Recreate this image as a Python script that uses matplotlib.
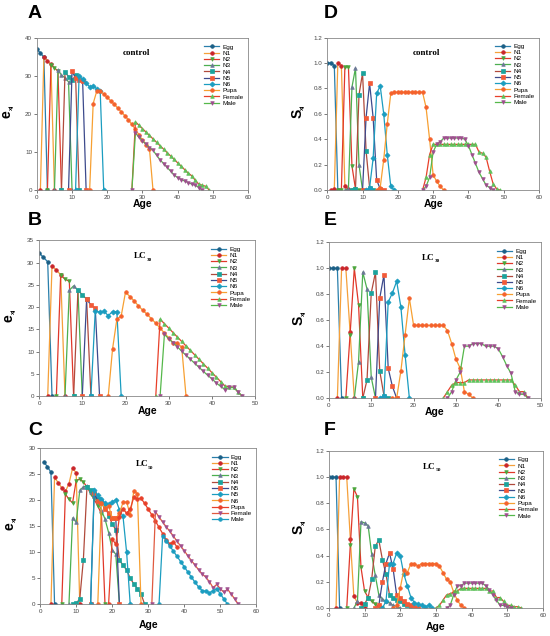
import matplotlib.pyplot as plt

plt.rcParams['font.family'] = ['Liberation Sans', 'DejaVu Sans']

# stage names per panel (panel C has an extra stage in the source figure)
stages = ["Egg", "N1", "N2", "N3", "N4", "N5", "N6", "Pupa", "Female", "Male"]
stages_c = ["Egg", "N1", "N2", "N3", "N4", "N5", "N5", "N6", "Pupa", "Female", "Male"]

# first age of each series (ages run on by one day)
ex_control_start = [0, 1, 3, 5, 7, 9, 11, 15, 27, 27]
ex_control = [
    [37.1, 36.1, 35.0, 0],
    [0, 35.0, 34.1, 33.1, 0],
    [0, 33.0, 32.2, 31.3, 0],
    [0, 31.5, 30.3, 29.6, 28.5, 0],
    [0, 31.0, 29.9, 28.9, 30.2, 0],
    [0, 31.3, 29.5, 29.0, 28.8, 0],
    [0, 30.1, 29.2, 28.2, 27.2, 27.4, 26.7, 26.0, 0],
    [0, 22.8, 26.0, 26.1, 25.3, 24.4, 23.5, 22.6, 21.6, 20.6, 19.6, 18.5, 17.3, 16.0,
     14.6, 13.2, 12.0, 10.8, 0],
    [0, 18.0, 17.1, 16.2, 15.3, 14.4, 13.5, 12.6, 11.7, 10.8, 9.9, 9.0, 8.1, 7.2, 6.3,
     5.4, 4.5, 3.8, 2.6, 1.6, 1.3, 1.0, 0],
    [0, 15.0, 14.0, 13.0, 12.1, 11.2, 10.5, 9.2, 8.0, 7.0, 6.0, 5.0, 4.0, 3.3, 2.8,
     2.4, 2.0, 1.6, 1.3, 0.7, 0],
]

ex_lc30_start = [0, 2, 4, 6, 8, 10, 12, 16, 27, 28]
ex_lc30 = [
    [32.2, 31.2, 30.2, 0],
    [0, 29.3, 28.3, 27.3, 0],
    [0, 27.2, 26.3, 25.8, 0],
    [0, 23.8, 24.8, 23.8, 0],
    [0, 23.8, 22.8, 21.8, 0],
    [0, 21.8, 20.5, 19.8, 0],
    [0, 19.2, 18.9, 19.1, 18.1, 19.0, 19.0, 0],
    [0, 10.6, 17.3, 18.0, 23.4, 22.4, 21.4, 20.3, 19.3, 18.4, 17.4, 16.4, 15.3, 14.2,
     13.1, 12.0, 12.0, 11.0, 0],
    [0, 17.3, 16.3, 15.3, 14.3, 13.3, 12.3, 11.3, 10.3, 9.3, 8.3, 7.3, 6.3, 5.3, 4.3,
     3.3, 2.3, 2.1, 2.0, 1.0, 0],
    [0, 13.9, 12.9, 12.0, 11.1, 10.1, 9.2, 8.3, 7.4, 6.5, 5.6, 4.7, 3.9, 3.0, 2.2,
     1.5, 2.0, 2.0, 1.0, 0],
]

ex_lc50_start = [1, 3, 6, 8, 9, 14, 14, 16, 19, 31, 33]
ex_lc50 = [
    [27.4, 26.5, 25.4, 0],
    [0, 24.4, 23.4, 22.4, 21.7, 23.2, 26.2, 25.3, 0],
    [0, 21.2, 20.2, 19.5, 23.8, 24.1, 23.5, 22.6, 21.3, 20.2, 18.9, 17.4, 0],
    [0, 16.6, 15.8, 21.9, 22.6, 22.8, 21.6, 20.9, 19.8, 18.1, 16.4, 13.8, 10.5, 9.6, 0],
    [0, 0.2, 1.0, 8.6, 22.6, 21.9, 21.2, 20.3, 19.6, 19.1, 17.0, 15.5, 14.3, 8.5, 7.5,
     6.6, 5.0, 3.9, 3.0, 2.0, 0],
    [0, 21.5, 19.8, 19.4, 18.4, 17.6, 16.6, 16.5, 0],
    [0, 21.9, 21.0, 20.2, 19.5, 19.2, 19.7, 20.1, 18.2, 16.9, 10.0, 0],
    [0, 19.5, 18.5, 19.0, 16.6, 16.5, 17.5, 19.6, 19.7, 17.2, 21.8, 21.3, 0],
    [0, 12.6, 11.5, 16.8, 18.4, 17.5, 18.3, 20.6, 20.3, 20.4, 19.4, 18.3, 17.2, 16.0,
     14.8, 13.6, 12.4, 11.6, 12.0, 11.0],
    [0, 17.8, 16.8, 15.8, 14.9, 14.0, 13.1, 12.1, 11.2, 10.3, 9.3, 8.4, 7.5, 6.6, 5.8,
     5.2, 4.3, 3.2, 3.8, 3.0, 2.3, 2.9, 2.0, 1.0, 0],
    [0, 13.2, 12.2, 11.2, 10.2, 9.2, 8.2, 7.2, 6.2, 5.2, 4.2, 3.3, 2.6, 2.5, 2.2, 2.6,
     3.0, 2.0, 1.0, 0],
]

sx_control_start = [0, 1, 3, 5, 7, 10, 11, 14, 27, 27]
sx_control = [
    [1.0, 1.0, 0.98, 0],
    [0, 0.01, 1.0, 0.98, 0.03, 0.01, 0],
    [0, 0.0, 0.97, 0.97, 0.19, 0.01, 0],
    [0, 0.01, 0.81, 0.96, 0.2, 0],
    [0, 0.01, 0.75, 0.92, 0.31, 0.02, 0],
    [0, 0.57, 0.84, 0.57, 0.08, 0.01, 0],
    [0, 0.02, 0.25, 0.76, 0.82, 0.6, 0.28, 0.03, 0],
    [0, 0.02, 0.24, 0.52, 0.76, 0.77, 0.77, 0.77, 0.77, 0.77, 0.77, 0.77, 0.77, 0.77,
     0.65, 0.4, 0.12, 0.07, 0.03, 0],
    [0, 0.1, 0.28, 0.36, 0.36, 0.36, 0.36, 0.36, 0.36, 0.36, 0.36, 0.36, 0.36, 0.36,
     0.36, 0.36, 0.3, 0.29, 0.26, 0.15, 0.05, 0.01, 0],
    [0, 0.03, 0.1, 0.3, 0.36, 0.38, 0.41, 0.41, 0.41, 0.41, 0.41, 0.41, 0.4, 0.35,
     0.28, 0.21, 0.14, 0.09, 0.04, 0.02, 0],
]

sx_lc30_start = [0, 2, 4, 6, 8, 11, 12, 15, 27, 28]
sx_lc30 = [
    [1.0, 1.0, 1.0, 0],
    [0, 1.0, 1.0, 0.51, 0],
    [0, 0.49, 1.0, 0.72, 0],
    [0, 0.28, 0.97, 0.84, 0.16, 0],
    [0, 0.14, 0.81, 0.97, 0.21, 0.02, 0],
    [0, 0.77, 0.95, 0.23, 0.09, 0],
    [0, 0.02, 0.74, 0.81, 0.9, 0.7, 0.33, 0],
    [0, 0.0, 0.21, 0.49, 0.77, 0.56, 0.56, 0.56, 0.56, 0.56, 0.56, 0.56, 0.56, 0.52,
     0.42, 0.3, 0.23, 0.05, 0.03, 0],
    [0, 0.05, 0.1, 0.12, 0.12, 0.12, 0.14, 0.14, 0.14, 0.14, 0.14, 0.14, 0.14, 0.14,
     0.14, 0.14, 0.14, 0.1, 0.05, 0.05, 0],
    [0, 0.05, 0.14, 0.2, 0.4, 0.4, 0.42, 0.42, 0.42, 0.4, 0.4, 0.4, 0.38, 0.32, 0.25,
     0.19, 0.05, 0.03, 0.03, 0],
]

sx_lc50_start = [0, 2, 5, 7, 9, 13, 15, 18, 30, 33]
sx_lc50 = [
    [1.0, 1.0, 1.0, 0],
    [0, 1.0, 1.0, 1.0, 0.53, 0.09, 0.04, 0.04, 0],
    [0, 0.48, 0.91, 0.85, 0.31, 0.13, 0.08, 0.05, 0.03, 0.01, 0],
    [0, 0.05, 0.66, 0.65, 0.63, 0.41, 0.25, 0.1, 0.07, 0.05, 0.04, 0.02, 0.01, 0],
    [0, 0.03, 0.08, 0.22, 0.47, 0.52, 0.37, 0.26, 0.1, 0.08, 0.06, 0.05, 0.03, 0.02, 0],
    [0, 0.02, 0.2, 0.34, 0.42, 0.3, 0.1, 0.08, 0.05, 0.03, 0.02, 0.01, 0],
    [0, 0.05, 0.34, 0.34, 0.42, 0.4, 0.26, 0.17, 0.08, 0.04, 0.03, 0.02, 0.01, 0.02, 0],
    [0, 0.02, 0.15, 0.29, 0.27, 0.34, 0.34, 0.32, 0.34, 0.34, 0.34, 0.34, 0.34, 0.32,
     0.27, 0.22, 0.2, 0.12, 0.06, 0.02, 0],
    [0, 0.02, 0.06, 0.1, 0.11, 0.12, 0.13, 0.15, 0.15, 0.15, 0.15, 0.15, 0.15, 0.15,
     0.15, 0.13, 0.13, 0.08, 0.08, 0.05, 0.02, 0.02, 0.01, 0.01, 0],
    [0, 0.02, 0.1, 0.17, 0.17, 0.19, 0.19, 0.19, 0.19, 0.19, 0.19, 0.17, 0.14, 0.1,
     0.06, 0.02, 0.02, 0.01, 0],
]

# (line colour, marker colour, marker)
style = [
    ("#2a7fab", "#1b5f86", "o"),
    ("#f5a03a", "#c9252b", "o"),
    ("#e0382a", "#4aa63c", "v"),
    ("#4caf50", "#6b7896", "^"),
    ("#b04a3c", "#1ba39c", "s"),
    ("#3d4a8c", "#f25a38", "s"),
    ("#1b9dc0", "#1b9dc0", "D"),
    ("#f7a032", "#f4622c", "o"),
    ("#e8402a", "#5ec15a", "^"),
    ("#55b84a", "#9e4f8e", "v"),
]
style_c = [
    ("#2a7fab", "#1b5f86", "o"),
    ("#f5a03a", "#c9252b", "o"),
    ("#e0382a", "#4aa63c", "v"),
    ("#4caf50", "#6b7896", "^"),
    ("#b04a3c", "#1ba39c", "s"),
    ("#3d4a8c", "#f25a38", "s"),
    ("#1b9dc0", "#1b9dc0", "D"),
    ("#f7a032", "#f4622c", "o"),
    ("#e8402a", "#e8402a", "o"),
    ("#e05a40", "#a0508f", "v"),
    ("#1b9dc0", "#1b9dc0", "o"),
]

fig = plt.figure(figsize=(5.5, 6.36), dpi=100)


def panel(rect, labels, starts, values, sty, ymax, ystep, xmax, ylab, tag, note, sub,
          tagpos, agepad, sfmt):
    ax = fig.add_axes(rect)
    for lab, s, v, (lc, mc, mk) in zip(labels, starts, values, sty):
        ages = list(range(s, s + len(v)))
        ax.plot(ages, v, color=lc, lw=0.9, marker=mk, ms=2.6, mfc=mc, mec=mc,
                mew=0.5, label=lab)
    ax.set_xlim(0, xmax)
    ax.set_ylim(0, ymax)
    ax.set_xticks(range(0, xmax + 1, 10))
    n = int(round(ymax / ystep))
    yt = [i * ystep for i in range(n + 1)]
    ax.set_yticks(yt)
    ax.set_yticklabels([sfmt.format(t) for t in yt])
    ax.tick_params(direction="out", length=2, width=0.5, labelsize=4.5,
                   colors="#444444", pad=1.5)
    for sp in ax.spines.values():
        sp.set_color("#888888")
        sp.set_linewidth(0.6)
    ax.set_xlabel("Age", fontsize=7.5, fontweight="bold")
    ax.xaxis.set_label_coords(0.5, agepad)
    ax.text(-0.142, 0.5, ylab, rotation=90, fontsize=10, fontweight="bold",
            transform=ax.transAxes, ha="center", va="center")
    ax.text(-0.118, 0.545, "xj", rotation=90, fontsize=4.5, fontweight="bold",
            transform=ax.transAxes, ha="center", va="center")
    t = ax.text(0.47, 0.9, note, fontsize=6.5, fontweight="bold",
                family="Liberation Serif", transform=ax.transAxes,
                ha="center", va="center")
    if sub:
        ax.annotate(sub, xy=(1.0, 0.05), xycoords=t, fontsize=3.8, fontweight="bold",
                    family="Liberation Serif", ha="left", va="center")
    ax.legend(loc="upper right", fontsize=4.6, frameon=False, handlelength=2.4,
              labelspacing=0.12, borderaxespad=0.3, handletextpad=0.5,
              bbox_to_anchor=(1.0, 0.99))
    fig.text(tagpos[0] / 550, 1 - tagpos[1] / 636, tag, fontsize=14,
             fontweight="bold", ha="left", va="baseline")
    return ax


panel([0.067, 0.701, 0.384, 0.239], stages, ex_control_start, ex_control, style,
      40, 10, 60, "e", "A", "control", None, (28, 18), -0.06, "{:.0f}")
panel([0.071, 0.377, 0.393, 0.245], stages, ex_lc30_start, ex_lc30, style,
      35, 5, 50, "e", "B", "LC", "30", (28, 225), -0.06, "{:.0f}")
panel([0.073, 0.050, 0.393, 0.245], stages_c, ex_lc50_start, ex_lc50, style_c,
      30, 5, 60, "e", "C", "LC", "50", (28, 435), -0.1, "{:.0f}")
panel([0.595, 0.701, 0.385, 0.240], stages, sx_control_start, sx_control, style,
      1.2, 0.2, 60, "S", "D", "control", None, (324, 18), -0.06, "{:.1f}")
panel([0.598, 0.374, 0.385, 0.245], stages, sx_lc30_start, sx_lc30, style,
      1.2, 0.2, 50, "S", "E", "LC", "30", (324, 225), -0.06, "{:.1f}")
panel([0.598, 0.044, 0.389, 0.247], stages, sx_lc50_start, sx_lc50, style,
      1.2, 0.2, 60, "S", "F", "LC", "50", (324, 435), -0.09, "{:.1f}")

fig.savefig("out.png", dpi=100)
